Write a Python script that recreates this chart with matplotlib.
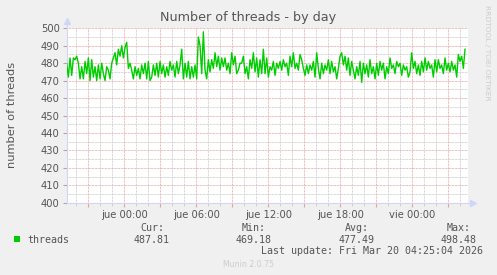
import numpy as np
import matplotlib
matplotlib.use("Agg")
import matplotlib.pyplot as plt
from matplotlib.ticker import MultipleLocator, FuncFormatter

# threads, one sample every ~8.3 min, starting 4.8 h before "jue 00:00"
threads_a = [480, 472, 483, 473, 483, 482, 484, 480, 471, 478, 471, 481, 474, 483, 470,
             482, 472, 478, 470, 479, 471, 480, 474, 470, 478, 476, 471, 480, 483, 486,
             479, 488, 484, 490, 483, 489, 492, 477, 480, 476, 471, 478, 473, 477, 471,
             479, 474, 480, 471, 481, 470, 472, 479, 473, 480, 472, 481, 474, 479, 472,
             478, 473, 481, 476, 479, 472, 481, 474, 479, 488, 471, 480, 472, 481, 471,
             478, 472, 479, 471, 495, 490, 474, 498, 476, 471, 482, 475, 482, 477, 486,
             478, 484, 476, 483, 478, 483, 476, 480, 474, 486, 479, 484, 474, 476, 480]
threads_b = [480, 484, 474, 478, 471, 482, 477, 486, 475, 483, 472, 482, 474, 488, 474,
             483, 472, 478, 476, 481, 473, 480, 477, 481, 476, 482, 478, 480, 473, 484,
             478, 486, 477, 480, 476, 485, 482, 477, 473, 479, 474, 479, 476, 481, 472,
             486, 477, 471, 480, 474, 479, 476, 482, 474, 481, 475, 478, 471, 477, 484,
             486, 479, 484, 476, 483, 473, 481, 476, 471, 478, 473, 481, 469, 480, 474,
             479, 472, 482, 474, 478, 471, 480, 473, 481, 476, 480, 471, 478, 474, 483,
             477, 479, 474, 481, 478, 480, 473, 479, 476, 478, 472, 475, 486, 477, 481,
             474, 479, 473, 481, 475, 483, 476, 481, 477, 479, 472, 482, 475, 482, 477,
             479, 474, 483, 476, 480, 475, 481, 476, 479, 472, 485, 481, 484, 477, 488]
T_START = -4.8          # hours relative to jue 00:00
T_STEP = 0.1389
X_MIN, X_MAX = -4.8, 28.62
tick_labels = {0: "jue 00:00", 6: "jue 06:00", 12: "jue 12:00", 18: "jue 18:00", 24: "vie 00:00"}
stats_heads = ["Cur:", "Min:", "Avg:", "Max:"]
stats_vals = ["487.81", "469.18", "477.49", "498.48"]

BG = "#f0f0f0"
TXT = "#555555"
AXIS = "#cfd6f8"
GREEN = "#00cc00"

values = threads_a + threads_b
hours = T_START + T_STEP * np.arange(len(values))

W, H = 497, 275
fig = plt.figure(figsize=(W / 100, H / 100), dpi=100, facecolor=BG)
ax = fig.add_axes([66.7 / W, 72.3 / H, 401 / W, 174.4 / H], facecolor="white")


def px(x, y):
    return x / W, 1 - y / H


ax.set_xlim(X_MIN, X_MAX)
ax.set_ylim(400, 500)
ax.xaxis.set_major_locator(MultipleLocator(3))
ax.xaxis.set_minor_locator(MultipleLocator(1))
ax.yaxis.set_major_locator(MultipleLocator(10))
ax.yaxis.set_minor_locator(MultipleLocator(5))
ax.xaxis.set_major_formatter(FuncFormatter(lambda v, p: tick_labels.get(int(round(v)), "")))

dots = (0, (0.72, 0.72))
ax.grid(which="minor", color="#c8c8c8", linestyle=dots, linewidth=0.72)
ax.grid(which="major", color="#eea0a0", linestyle=dots, linewidth=0.72)
ax.set_axisbelow(True)

for s in ["top", "right"]:
    ax.spines[s].set_visible(False)
for s in ["left", "bottom"]:
    ax.spines[s].set_color(AXIS)
    ax.spines[s].set_linewidth(0.8)

ax.tick_params(axis="both", which="both", direction="out", labelsize=7.2, labelcolor=TXT, pad=2)
ax.tick_params(axis="x", which="major", length=3, color="#eea0a0")
ax.tick_params(axis="x", which="minor", length=2, color="#c8c8c8")
ax.tick_params(axis="y", which="major", length=3, color="#aaaaaa")
ax.tick_params(axis="y", which="minor", length=0)

ax.plot(hours, values, color=GREEN, linewidth=1.0, zorder=3)

# axis arrows
ax.plot([0], [1.04], marker="^", markersize=5, color=AXIS, transform=ax.transAxes, clip_on=False)
ax.plot([0, 0], [1.0, 1.03], color=AXIS, lw=0.8, transform=ax.transAxes, clip_on=False)
ax.plot([1.0, 1.012], [0, 0], color=AXIS, lw=0.8, transform=ax.transAxes, clip_on=False)
ax.plot([1.012], [0], marker=">", markersize=5, color=AXIS, transform=ax.transAxes, clip_on=False)

fig.text(*px(248.5, 18), "Number of threads - by day", ha="center", va="center",
         fontsize=9.2, color=TXT)
fig.text(*px(12, 115), "number of threads", ha="center", va="center", rotation=90,
         fontsize=8.2, color=TXT)
fig.text(*px(487, 5), "RRDTOOL / TOBI OETIKER", ha="center", va="top", rotation=270,
         fontsize=5.4, color="#cccccc")

# legend
mono = "DejaVu Sans Mono"
fig.patches.append(plt.Rectangle(px(14, 242), 6 / W, 6 / H, transform=fig.transFigure,
                                 facecolor=GREEN, edgecolor="none"))
fig.text(*px(27, 240), "threads", ha="left", va="center", family=mono, fontsize=7.2, color=TXT)
for cx, head, val in zip([152, 254, 357, 459], stats_heads, stats_vals):
    fig.text(*px(cx, 228), head, ha="center", va="center", family=mono, fontsize=7.2, color=TXT)
    fig.text(*px(cx, 240), val, ha="center", va="center", family=mono, fontsize=7.2, color=TXT)
fig.text(*px(483, 251), "Last update: Fri Mar 20 04:25:04 2026", ha="right", va="center",
         family=mono, fontsize=7.2, color=TXT)
fig.text(*px(248, 264.5), "Munin 2.0.75", ha="center", va="center", fontsize=5.6, color="#cccccc")

fig.savefig("out.png", dpi=100, facecolor=BG)
